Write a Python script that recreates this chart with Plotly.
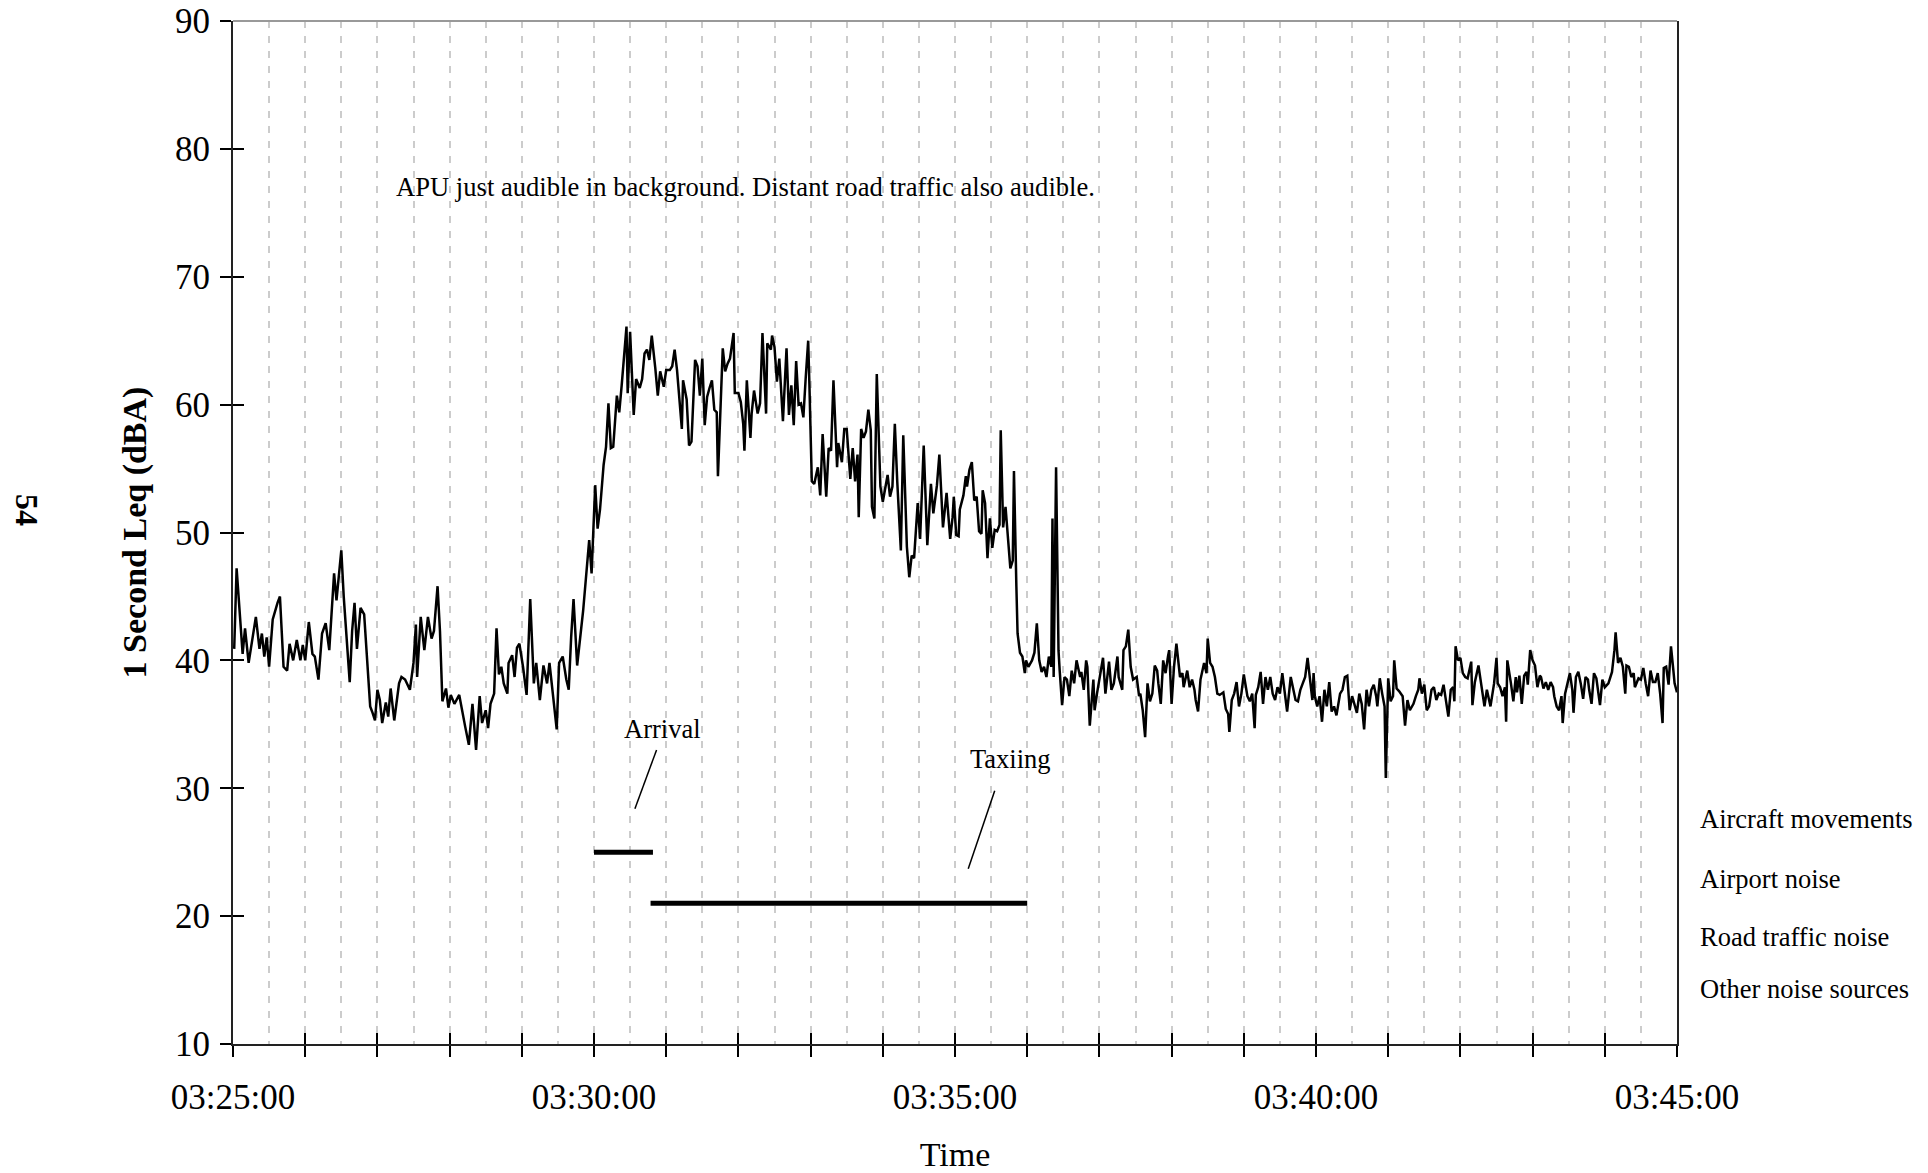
import pandas as pd
import plotly.graph_objects as go

# ---------------- data ----------------
start_time = "2000-01-01 03:25:00"
end_time = "2000-01-01 03:45:00"

# seconds after 03:25:00
leq_seconds = [
    1, 3, 8, 10, 13, 16, 19, 22, 24, 26, 28, 30, 33, 37, 39, 42, 45, 47, 50, 53,
    56, 58, 60, 63, 66, 68, 71, 74, 77, 80, 82, 84, 86, 90, 92, 95, 97, 99, 101, 103,
    106, 109, 111, 114, 116, 118, 120, 122, 124, 127, 129, 131, 134, 138, 140, 143, 147, 150, 152, 153,
    156, 159, 162, 165, 167, 170, 172, 174, 177, 179, 181, 184, 188, 190, 193, 196, 199, 202, 205, 207,
    210, 212, 214, 217, 219, 221, 223, 225, 228, 229, 232, 234, 236, 238, 241, 244, 247, 250, 252, 255,
    258, 261, 263, 266, 269, 271, 274, 277, 279, 281, 283, 286, 289, 291, 296, 298, 301, 303, 305, 308,
    310, 312, 314, 316, 319, 321, 323, 325, 327, 328, 330, 333, 335, 338, 340, 342, 344, 346, 348, 351,
    353, 355, 358, 360, 363, 365, 367, 369, 373, 374, 377, 379, 381, 384, 386, 388, 390, 392, 394, 396,
    398, 400, 402, 403, 405, 407, 409, 411, 413, 416, 417, 420, 422, 424, 425, 427, 430, 431, 433, 436,
    438, 440, 443, 444, 447, 448, 450, 452, 454, 457, 460, 462, 464, 466, 468, 470, 472, 474, 476, 478,
    479, 481, 483, 486, 488, 490, 493, 495, 497, 499, 502, 503, 506, 508, 510, 513, 515, 517, 519, 520,
    522, 524, 526, 528, 530, 531, 533, 535, 538, 540, 544, 546, 548, 550, 552, 555, 557, 560, 562, 564,
    566, 569, 571, 574, 577, 580, 582, 585, 587, 590, 593, 596, 598, 599, 601, 603, 604, 607, 609, 610,
    612, 614, 616, 618, 620, 622, 623, 625, 627, 629, 631, 633, 635, 637, 638, 640, 642, 644, 646, 648,
    649, 651, 652, 654, 656, 658, 659, 661, 664, 666, 668, 670, 672, 674, 676, 678, 680, 681, 682, 684,
    686, 687, 689, 691, 693, 695, 697, 699, 701, 704, 705, 707, 709, 710, 712, 715, 716, 718, 721, 723,
    725, 728, 730, 732, 735, 736, 739, 740, 742, 744, 746, 748, 751, 753, 754, 756, 758, 760, 762, 764,
    766, 768, 769, 771, 773, 775, 777, 778, 780, 782, 784, 787, 789, 790, 793, 795, 797, 799, 800, 802,
    804, 807, 809, 810, 812, 814, 816, 818, 820, 823, 825, 827, 828, 830, 832, 834, 836, 838, 840, 843,
    845, 847, 849, 850, 852, 854, 856, 858, 860, 862, 864, 866, 868, 870, 872, 874, 876, 879, 881, 883,
    885, 887, 889, 891, 893, 895, 897, 898, 899, 901, 903, 905, 907, 909, 911, 913, 915, 917, 920, 922,
    924, 926, 928, 930, 932, 934, 936, 938, 940, 942, 944, 946, 948, 950, 951, 953, 955, 957, 958, 960,
    962, 964, 965, 967, 969, 972, 974, 976, 978, 981, 983, 985, 986, 988, 990, 992, 994, 996, 998, 1000,
    1002, 1004, 1006, 1008, 1010, 1012, 1014, 1015, 1016, 1018, 1020, 1022, 1024, 1026, 1027, 1029, 1030, 1032, 1035, 1037,
    1039, 1040, 1042, 1043, 1045, 1048, 1050, 1051, 1053, 1055, 1057, 1058, 1059, 1062, 1064, 1066, 1067, 1069, 1071, 1073,
    1075, 1076, 1078, 1080, 1082, 1084, 1086, 1087, 1089, 1091, 1093, 1095, 1097, 1098, 1100, 1102, 1104, 1105, 1107, 1109,
    1111, 1113, 1114, 1116, 1118, 1120, 1122, 1124, 1126, 1127, 1129, 1131, 1133, 1135, 1136, 1138, 1140, 1143, 1144, 1146,
    1148, 1149, 1151, 1153, 1155, 1157, 1158, 1160, 1162, 1164, 1165, 1168, 1170, 1172, 1174, 1176, 1178, 1180, 1182, 1184,
    1186, 1188, 1189, 1191, 1193, 1195, 1197, 1198, 1200,
]

leq_dba = [
    40.9, 47.2, 40.5, 42.5, 39.8, 41.5, 43.4, 40.9, 42.1, 40.3, 41.8, 39.5, 43.2, 44.5, 45.0, 39.5, 39.2, 41.3, 40.0, 41.6,
    40.0, 41.2, 40.0, 43.0, 40.5, 40.3, 38.5, 42.1, 42.9, 40.8, 43.9, 46.8, 44.7, 48.6, 45.0, 40.8, 38.3, 42.3, 44.5, 40.9,
    44.1, 43.6, 40.5, 36.4, 35.9, 35.3, 37.7, 36.9, 35.1, 36.7, 35.6, 37.8, 35.3, 38.2, 38.7, 38.5, 37.7, 39.8, 42.8, 38.7,
    43.4, 40.8, 43.4, 41.7, 42.3, 45.8, 42.3, 36.8, 37.8, 36.3, 37.3, 36.6, 37.3, 36.4, 34.8, 33.4, 36.6, 33.0, 37.2, 35.1,
    36.1, 34.7, 36.6, 37.4, 42.5, 38.9, 39.5, 38.2, 37.4, 39.8, 40.4, 38.7, 41.0, 41.3, 39.5, 37.3, 44.8, 38.2, 39.8, 36.9,
    39.6, 38.2, 39.8, 37.2, 34.6, 39.8, 40.3, 38.5, 37.7, 41.8, 44.8, 39.6, 42.0, 43.9, 49.4, 46.8, 53.7, 50.3, 51.8, 55.3,
    56.7, 60.1, 56.6, 56.7, 60.7, 59.4, 61.5, 63.7, 66.1, 60.9, 65.7, 59.2, 62.0, 61.3, 62.0, 64.0, 64.3, 63.5, 65.4, 62.8,
    60.7, 62.6, 61.4, 62.7, 62.7, 63.0, 64.3, 62.7, 58.1, 61.9, 60.4, 56.8, 57.1, 63.5, 63.0, 60.7, 63.6, 58.4, 60.6, 61.3,
    61.9, 59.6, 59.4, 54.4, 59.3, 64.4, 62.6, 63.2, 63.6, 65.6, 60.9, 60.9, 60.2, 58.5, 56.4, 61.9, 57.4, 59.3, 61.1, 59.3,
    60.1, 65.6, 59.3, 64.8, 64.3, 65.4, 64.5, 61.8, 63.6, 58.7, 64.4, 59.2, 61.5, 58.4, 63.4, 60.0, 60.1, 59.0, 62.2, 65.0,
    61.6, 54.0, 53.8, 55.1, 52.9, 57.7, 52.8, 56.6, 56.4, 61.9, 55.1, 57.0, 55.5, 58.1, 58.1, 54.2, 56.6, 54.0, 56.1, 51.2,
    58.1, 57.4, 57.9, 59.6, 58.0, 52.0, 51.1, 62.4, 53.6, 52.4, 54.5, 52.8, 53.6, 58.5, 54.0, 48.6, 57.6, 48.9, 46.5, 48.2,
    48.0, 52.3, 49.5, 56.8, 49.0, 53.8, 51.5, 53.7, 56.1, 50.4, 53.1, 49.5, 51.2, 52.8, 49.8, 49.7, 51.8, 52.9, 54.4, 53.6,
    54.9, 55.5, 52.5, 52.8, 50.1, 49.9, 53.3, 52.3, 48.0, 51.1, 48.8, 50.2, 50.1, 50.6, 58.0, 50.4, 52.0, 49.9, 47.2, 47.8,
    54.8, 45.8, 42.1, 40.6, 40.3, 39.0, 40.0, 39.5, 40.0, 40.6, 42.9, 40.0, 39.1, 39.5, 38.7, 40.3, 39.5, 51.1, 38.7, 55.1,
    40.8, 39.2, 36.5, 38.7, 38.5, 37.2, 39.2, 38.2, 40.0, 38.7, 39.1, 37.7, 40.0, 39.5, 34.9, 38.5, 36.1, 37.4, 39.0, 40.2,
    37.4, 39.9, 37.7, 38.2, 40.3, 38.7, 37.7, 40.8, 41.1, 42.4, 39.5, 38.5, 38.7, 37.2, 37.4, 36.1, 34.0, 38.2, 36.8, 37.4,
    39.6, 39.2, 38.2, 36.6, 40.0, 39.0, 40.3, 40.8, 36.6, 39.5, 41.3, 38.7, 39.0, 37.9, 39.2, 37.9, 38.5, 37.7, 36.9, 36.0,
    38.5, 39.8, 39.0, 41.7, 39.8, 39.5, 38.7, 37.4, 37.3, 37.5, 36.2, 35.8, 34.4, 36.9, 37.4, 38.3, 36.4, 37.4, 38.9, 37.2,
    36.8, 37.4, 34.7, 37.3, 37.9, 39.1, 36.6, 38.7, 37.7, 38.7, 37.4, 36.9, 37.9, 37.4, 39.0, 37.4, 36.0, 38.7, 37.9, 36.9,
    36.8, 37.7, 38.2, 38.7, 40.2, 38.5, 36.9, 39.0, 37.2, 36.4, 37.2, 35.2, 37.7, 36.4, 38.3, 36.0, 36.4, 35.7, 37.4, 37.7,
    38.7, 38.8, 36.1, 37.2, 36.6, 35.9, 37.4, 36.6, 34.6, 37.7, 36.4, 37.7, 38.1, 37.2, 36.4, 38.6, 37.4, 36.4, 30.8, 38.6,
    36.8, 37.2, 40.0, 37.8, 37.6, 37.2, 34.9, 36.9, 36.1, 36.6, 37.2, 37.7, 38.6, 37.4, 38.1, 36.1, 36.4, 37.7, 37.9, 36.9,
    37.4, 37.3, 38.1, 37.0, 35.6, 37.7, 37.9, 36.8, 41.1, 40.0, 40.2, 39.0, 38.7, 38.6, 39.0, 39.9, 36.5, 38.3, 39.6, 38.2,
    37.2, 36.4, 37.7, 37.2, 36.4, 38.2, 40.2, 38.2, 37.9, 37.2, 37.9, 35.2, 40.0, 38.2, 36.8, 38.7, 37.5, 38.8, 36.6, 38.8,
    39.1, 38.1, 40.8, 40.0, 39.6, 37.9, 38.8, 38.7, 37.8, 38.3, 37.7, 38.3, 37.9, 37.2, 36.4, 36.1, 37.2, 35.1, 37.4, 38.2,
    39.0, 37.7, 35.9, 38.7, 39.1, 38.2, 37.0, 38.7, 38.5, 37.7, 36.6, 39.0, 38.6, 37.2, 36.5, 38.5, 37.9, 38.2, 38.5, 39.1,
    40.8, 42.2, 39.8, 40.2, 39.5, 37.4, 39.6, 39.5, 38.7, 39.0, 37.9, 38.6, 38.5, 39.4, 38.2, 37.2, 39.2, 38.3, 38.3, 39.0,
    37.4, 35.1, 39.4, 39.5, 38.1, 41.1, 39.2, 38.2, 37.5,
]

# aircraft movement events (bars below the trace)
event_names = ["Arrival", "Taxiing"]
event_start_s = [300, 347]
event_end_s = [349, 660]
event_level = [25, 21]
event_label_s = [357, 646]
event_label_level = [34.6, 32.3]
pointer_top_s = [352, 633]
pointer_top_level = [33.0, 29.8]
pointer_bottom_s = [334, 611]
pointer_bottom_level = [28.4, 23.7]

# axis ticks
minute_ticks = pd.date_range(start_time, end_time, freq="60s")
minute_labels = [t.strftime("%H:%M:%S") if t.minute % 5 == 0 else "" for t in minute_ticks]
half_minute_ticks = pd.date_range("2000-01-01 03:25:30", "2000-01-01 03:44:30", freq="60s")
y_ticks = [10, 20, 30, 40, 50, 60, 70, 80, 90]

legend_side_labels = ["Aircraft movements", "Airport noise", "Road traffic noise", "Other noise sources"]
legend_side_levels = [27.6, 22.9, 18.4, 14.3]

note_text = "APU just audible in background. Distant road traffic also audible."
note_time_s = 134
note_level = 77.0
page_number = "54"

# ---------------- build figure ----------------
base = pd.Timestamp(start_time)
def to_time(secs):
    return [base + pd.Timedelta(seconds=s) for s in secs]

FONT = "Liberation Serif, Times New Roman, serif"
x_range = [pd.Timestamp(start_time), pd.Timestamp(end_time)]

fig = go.Figure()

fig.add_trace(go.Scatter(
    x=to_time(leq_seconds), y=leq_dba, mode="lines",
    line=dict(color="black", width=2.5), showlegend=False,
    name="1 Second Leq",
))

for name, s0, s1, lvl in zip(event_names, event_start_s, event_end_s, event_level):
    fig.add_trace(go.Scatter(
        x=to_time([s0, s1]), y=[lvl, lvl], mode="lines",
        line=dict(color="black", width=5), showlegend=False, name=name,
        xaxis="x2", yaxis="y2",
    ))

for name, sl, ll, ts, tl, bs, bl in zip(event_names, event_label_s, event_label_level,
                                        pointer_top_s, pointer_top_level,
                                        pointer_bottom_s, pointer_bottom_level):
    fig.add_annotation(x=to_time([sl])[0], y=ll, xref="x", yref="y", text=name,
                       showarrow=False, font=dict(family=FONT, size=26.5, color="black"),
                       xanchor="center", yanchor="middle")
    t0, t1 = to_time([ts, bs])
    fig.add_shape(type="line", xref="x", yref="y", x0=t0, y0=tl, x1=t1, y1=bl,
                  line=dict(color="black", width=1.5))

fig.add_annotation(x=to_time([note_time_s])[0], y=note_level, xref="x", yref="y",
                   text=note_text, showarrow=False, xanchor="left", yanchor="middle",
                   font=dict(family=FONT, size=26.6, color="black"))

for lab, lvl in zip(legend_side_labels, legend_side_levels):
    fig.add_annotation(x=1.0145, y=lvl, xref="paper", yref="y", text=lab,
                       showarrow=False, xanchor="left", yanchor="middle",
                       font=dict(family=FONT, size=26.5, color="black"))

fig.add_annotation(x=-0.1427, y=0.522, xref="paper", yref="paper",
                   xanchor="center", yanchor="middle",
                   text="<b>" + page_number + "</b>", showarrow=False, textangle=90,
                   font=dict(family=FONT, size=32, color="black"))

# top border (light grey)
fig.add_shape(type="line", xref="paper", yref="paper", x0=0, x1=1, y0=1, y1=1,
              line=dict(color="#999999", width=2))

fig.update_layout(
    width=1928, height=1173,
    margin=dict(l=233, r=251, t=21, b=129, autoexpand=False),
    paper_bgcolor="white", plot_bgcolor="white",
    font=dict(family=FONT, color="black", size=35),
    xaxis=dict(
        type="date", range=x_range, automargin=False,
        tickmode="array", tickvals=list(minute_ticks), ticktext=minute_labels,
        ticks="outside", ticklen=11, tickwidth=1.5, tickcolor="black",
        ticklabelstandoff=10, ticklabeloverflow="allow",
        tickfont=dict(family=FONT, size=35, color="black"),
        showgrid=True, gridcolor="#cccccc", gridwidth=1.5, griddash="7px,8px",
        minor=dict(tickmode="array", tickvals=list(half_minute_ticks), ticks="",
                   showgrid=True, gridcolor="#cccccc", gridwidth=1.5, griddash="7px,8px"),
        showline=True, linecolor="#222222", linewidth=2, mirror=False,
        zeroline=False,
        title=dict(text="Time", standoff=31, font=dict(family=FONT, size=34, color="black")),
    ),
    yaxis=dict(
        range=[10, 90], tickmode="array", tickvals=y_ticks, automargin=False,
        ticks="outside", ticklen=11, tickwidth=1.5, tickcolor="black",
        ticklabelstandoff=3, ticklabeloverflow="allow",
        tickfont=dict(family=FONT, size=35, color="black"),
        showgrid=False, zeroline=False,
        showline=True, linecolor="#222222", linewidth=2, mirror=True,
        title=dict(text="<b>1 Second Leq (dBA)</b>", standoff=18,
                   font=dict(family=FONT, size=34, color="black")),
    ),
    xaxis2=dict(
        type="date", range=x_range, overlaying="x", anchor="y2", side="bottom",
        automargin=False,
        tickmode="array", tickvals=list(minute_ticks),
        ticks="inside", ticklen=11, tickwidth=1.5, tickcolor="black",
        showticklabels=False, showgrid=False, showline=False, zeroline=False,
    ),
    yaxis2=dict(
        range=[10, 90], overlaying="y", anchor="x2", side="left", automargin=False,
        tickmode="array", tickvals=y_ticks,
        ticks="inside", ticklen=11, tickwidth=1.5, tickcolor="black",
        showticklabels=False, showgrid=False, showline=False, zeroline=False,
    ),
)

# remove the browser's default 8px page margin so the figure fills the window exactly
fig.write_html(
    "out.html",
    config={"displayModeBar": False},
    post_script="document.body.style.margin='0'; document.body.style.overflow='hidden';",
)
